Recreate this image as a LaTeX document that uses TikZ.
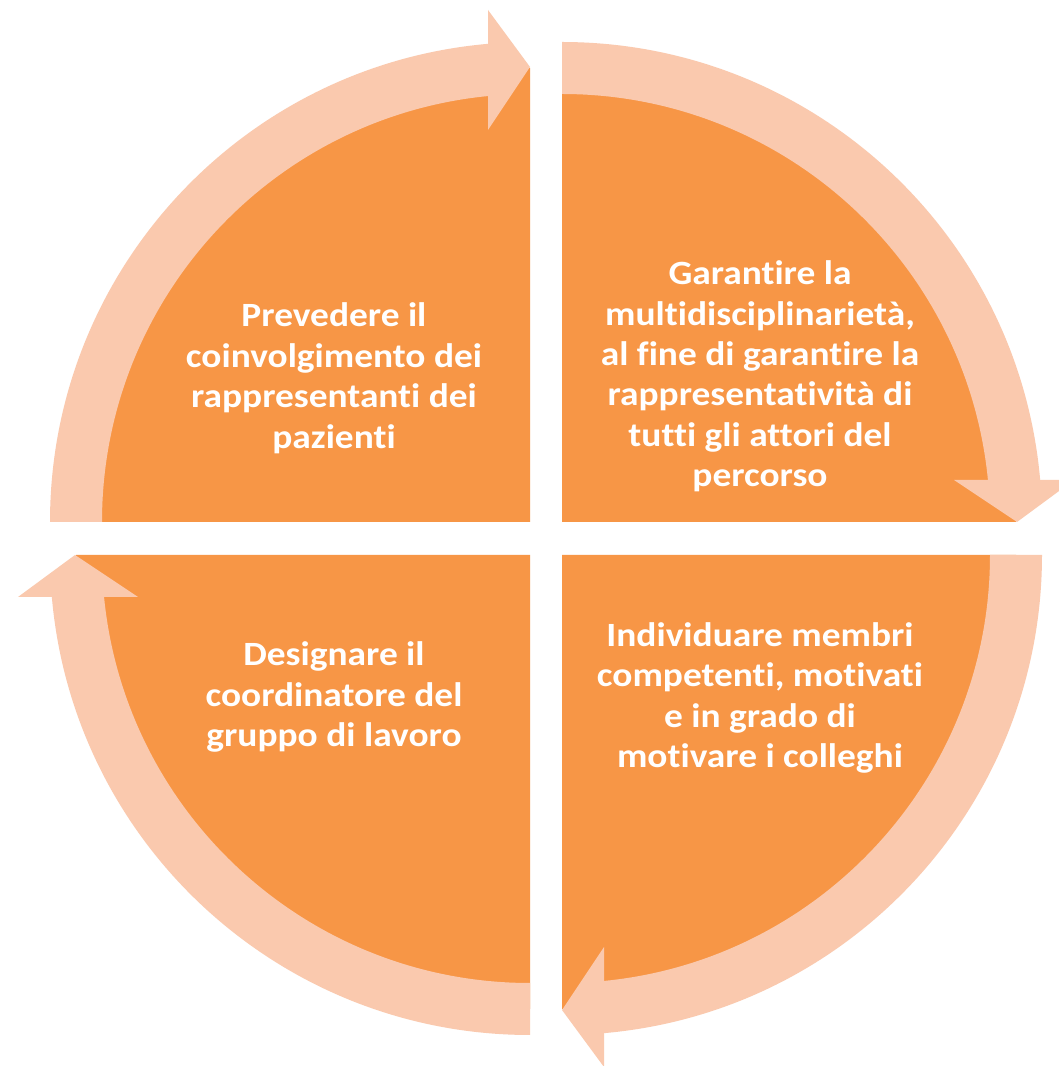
\documentclass[tikz,border=0pt]{standalone}
\usepackage{fontspec}
\setmainfont{Carlito}[Ligatures=NoCommon, FakeStretch=1.1]
\definecolor{pieorange}{RGB}{247,150,70}
\definecolor{ringpeach}{RGB}{250,201,174}
\tikzset{
  pie/.style={fill=pieorange},
  ring/.style={fill=ringpeach},
  lbl/.style={text=white, align=center, font=\fontsize{34}{40.5}\selectfont\bfseries, inner sep=0pt},
}
\newcommand{\quadpiece}{%
  \fill[pie] (0,0) -- (180:454) arc[start angle=180, end angle=90, radius=454] -- cycle;
  \fill[ring] (180:480) arc[start angle=180, end angle=93, radius=480]
     -- (93:428) arc[start angle=93, end angle=180, radius=428] -- cycle;
  \fill[ring] (-42,512) -- (0,455) -- (-42,392) -- cycle;
}
\begin{document}
\begin{tikzpicture}[x=1pt,y=1pt]
\useasboundingbox (0,0) rectangle (1059,1066);
\clip (0,0) rectangle (1059,1066);
\fill[white] (0,0) rectangle (1059,1066);
\begin{scope}[shift={(530,544)}]\quadpiece\end{scope}
\begin{scope}[shift={(562,544)}, rotate=-90]\quadpiece\end{scope}
\begin{scope}[shift={(562,511)}, rotate=-180]\quadpiece\end{scope}
\begin{scope}[shift={(530,511)}, rotate=-270]\quadpiece\end{scope}
\node[lbl] (tl) at (334,687.5) {Prevedere il\\coinvolgimento dei\\rappresentanti dei\\pazienti};
\node[lbl] (tr) at (760,689.5) {Garantire la\\multidisciplinariet\`a,\\al fine di garantire la\\rappresentativit\`a di\\tutti gli attori del\\percorso};
\node[lbl] (br) at (760,368) {Individuare membri\\competenti, motivati\\e in grado di\\motivare i colleghi};
\node[lbl] (bl) at (334,369) {Designare il\\coordinatore del\\gruppo di lavoro};
\end{tikzpicture}
\end{document}
